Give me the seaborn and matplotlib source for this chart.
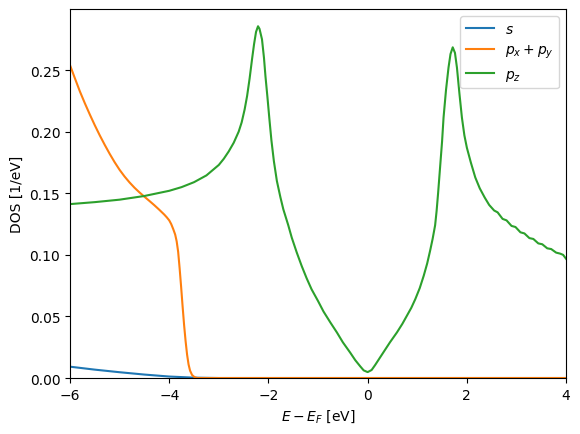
import numpy as np
import matplotlib
matplotlib.use("Agg")
import matplotlib.pyplot as plt
import seaborn as sns

# s orbital
s_E = [-6.0, -5.5, -5.0, -4.5, -4.0, -3.5, -3.0, 4.0]
s_dos = [0.0092, 0.0068, 0.0047, 0.0028, 0.0012, 0.0003, 0.0, 0.0]

# px + py
pxy_E = [-6.0, -5.9, -5.8, -5.7, -5.6, -5.5, -5.4, -5.3, -5.2, -5.1, -5.0,
         -4.9, -4.8, -4.7, -4.6, -4.5, -4.4, -4.3, -4.2, -4.1, -4.05, -4.0,
         -3.96, -3.92, -3.88, -3.85, -3.82, -3.79, -3.76, -3.73, -3.7, -3.67,
         -3.64, -3.61, -3.58, -3.54, -3.49, -3.43, 4.0]
pxy_dos = [0.254, 0.2432, 0.2326, 0.223, 0.2139, 0.2052, 0.197, 0.1893, 0.182,
           0.1752, 0.169, 0.1636, 0.1588, 0.1545, 0.1507, 0.1472, 0.1438,
           0.1403, 0.1366, 0.1327, 0.1305, 0.128, 0.125, 0.121, 0.1165, 0.111,
           0.1025, 0.089, 0.074, 0.058, 0.043, 0.03, 0.019, 0.011, 0.006,
           0.0025, 0.0007, 0.0, 0.0]

# pz
pz_E = [-6.0, -5.5, -5.0, -4.5, -4.0, -3.75, -3.5, -3.25, -3.0, -2.9, -2.8, -2.7,
        -2.6, -2.54, -2.48, -2.43, -2.38, -2.33, -2.29, -2.25, -2.21, -2.18,
        -2.13, -2.09, -2.06, -2.02, -1.98, -1.94, -1.89, -1.83, -1.76,
        -1.7, -1.6, -1.53, -1.43, -1.33, -1.23, -1.13, -1.0, -0.89, -0.75,
        -0.62, -0.5, -0.35, -0.25, -0.15, -0.08, 0.0, 0.08, 0.15, 0.32, 0.45,
        0.59, 0.7, 0.79, 0.88, 0.96, 1.05, 1.13, 1.2, 1.26, 1.31, 1.36, 1.39,
        1.42, 1.46, 1.5, 1.53, 1.58, 1.63, 1.67, 1.715, 1.76, 1.8, 1.85, 1.9,
        1.95, 2.0, 2.08, 2.17, 2.26, 2.36, 2.45, 2.55, 2.62, 2.72, 2.8, 2.9,
        2.98, 3.08, 3.16, 3.26, 3.34, 3.44, 3.52, 3.62, 3.7, 3.8, 3.88, 3.94,
        4.0]
pz_dos = [0.1412, 0.1428, 0.1448, 0.1478, 0.152, 0.155, 0.159, 0.1645, 0.173,
          0.178, 0.184, 0.191, 0.2, 0.2075, 0.218, 0.229, 0.243, 0.259, 0.271,
          0.281, 0.2856, 0.2835, 0.275, 0.26, 0.245, 0.228, 0.21, 0.193, 0.176,
          0.16, 0.147, 0.137, 0.124, 0.114, 0.102, 0.091, 0.081, 0.072,
          0.0625, 0.054, 0.045, 0.037, 0.029, 0.0205, 0.0145, 0.0095, 0.0062,
          0.0048, 0.0065, 0.0105, 0.021, 0.029, 0.037, 0.044, 0.0505, 0.057,
          0.064, 0.073, 0.083, 0.093, 0.1035, 0.113, 0.124, 0.1356, 0.15,
          0.171, 0.192, 0.2115, 0.234, 0.252, 0.263, 0.2685, 0.264, 0.252,
          0.231, 0.2115, 0.197, 0.187, 0.175, 0.1628, 0.154, 0.1465, 0.1405,
          0.136, 0.1345, 0.1292, 0.128, 0.1235, 0.1226, 0.1183, 0.1174, 0.1136,
          0.1129, 0.1093, 0.1086, 0.1053, 0.1047, 0.1018, 0.101, 0.1, 0.0968]

labels = ["$s$", "$p_x + p_y$", "$p_z$"]
colors = sns.color_palette("tab10")

fig, ax = plt.subplots(figsize=(5.8, 4.35), dpi=100)
fig.subplots_adjust(left=0.1207, right=0.976, top=0.977, bottom=0.1287)

sns.lineplot(x=s_E, y=s_dos, ax=ax, color=colors[0], label=labels[0])
sns.lineplot(x=pxy_E, y=pxy_dos, ax=ax, color=colors[1], label=labels[1])
sns.lineplot(x=pz_E, y=pz_dos, ax=ax, color=colors[2], label=labels[2])

ax.set_xlim(-6, 4)
ax.set_ylim(0, 0.2996)
ax.set_xlabel("$E - E_F$ [eV]")
ax.set_ylabel("DOS [1/eV]")
ax.legend(loc="upper right")

plt.savefig("out.png", dpi=100)
